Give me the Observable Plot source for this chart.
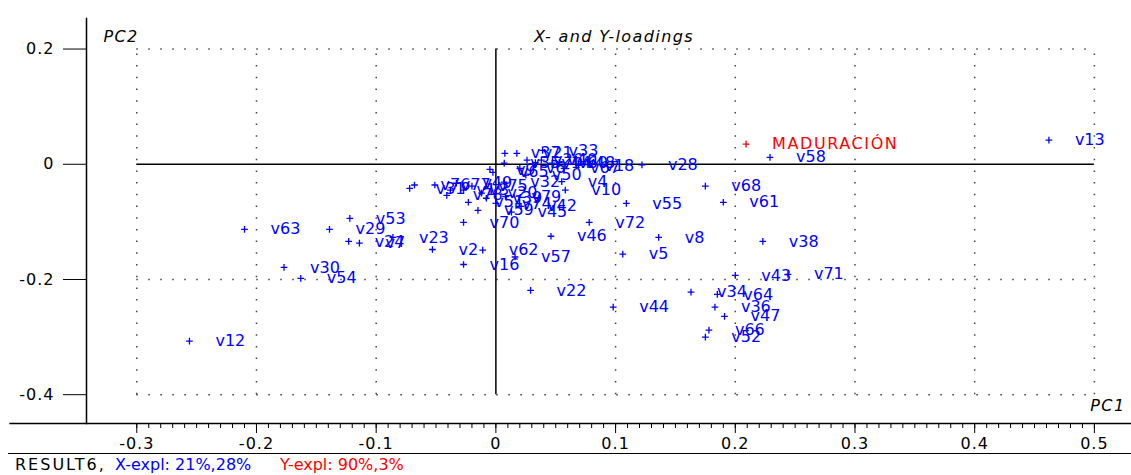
<!DOCTYPE html>
<html>
<head>
<meta charset="utf-8">
<script src="https://cdn.jsdelivr.net/npm/d3@7"></script>
<script src="https://cdn.jsdelivr.net/npm/@observablehq/plot@0.6"></script>
<style>
  html, body { margin: 0; padding: 0; background: white; }
  #cap { position: relative; height: 22px; margin-left: 8px; border-top: 1px solid black;
         font-family: "DejaVu Sans", sans-serif; font-size: 16px; line-height: 22px; }
  #cap span { position: absolute; top: 0; white-space: pre; }
</style>
</head>
<body>
<div id="chart"></div>
<div id="cap"><span style="left:7px;color:#000;letter-spacing:2px">RESULT6,</span><span style="left:107px;color:#0000ff">X-expl: 21%,28%</span><span style="left:272px;color:#ff0000">Y-expl: 90%,3%</span></div>
<script>
// X-variables (loadings)
const varNames = ["v13","v58","v28","v68","v61","v55","v72","v46","v8","v5","v62","v57","v22","v44","v43","v71","v38","v34","v64","v36","v47","v66","v52","v12","v63","v29","v53","v24","v7","v23","v2","v16","v70","v30","v54",
  "v37","v21","v33","v35","v65","v26","v14","v40","v60","v48","v67","v18","v6","v32","v50","v4","v10","v9",
  "v31","v76","v77","v49","v3","v75","v1","v51","v79","v59","v45","v42","v74","v39","v20","v78"];
const pc1Loadings = [0.462,0.229,0.122,0.175,0.190,0.109,0.078,0.046,0.136,0.106,-0.011,0.016,0.029,0.098,0.200,0.244,0.223,0.163,0.185,0.183,0.191,0.178,0.175,-0.256,-0.210,-0.139,-0.122,-0.123,-0.114,-0.086,-0.053,-0.027,-0.027,-0.177,-0.163,
  0.0075,0.0175,0.039,0.007,-0.0025,0.026,0.033,0.038,0.047,0.053,0.057,0.069,0.020,0.007,0.025,0.055,0.058,-0.005,
  -0.072,-0.068,-0.051,-0.033,-0.027,-0.020,-0.038,-0.023,0.008,-0.015,0.013,0.021,0.000,-0.008,-0.012,-0.041];
const pc2Loadings = [0.042,0.012,-0.001,-0.038,-0.066,-0.068,-0.101,-0.125,-0.127,-0.156,-0.149,-0.161,-0.219,-0.248,-0.193,-0.191,-0.134,-0.222,-0.226,-0.248,-0.264,-0.288,-0.300,-0.307,-0.113,-0.113,-0.094,-0.134,-0.137,-0.127,-0.148,-0.174,-0.101,-0.179,-0.198,
  0.019,0.019,0.024,0.002,-0.014,0.007,0.003,0.007,0.002,0.003,-0.007,-0.002,-0.007,-0.031,-0.019,-0.030,-0.045,-0.009,
  -0.042,-0.036,-0.036,-0.033,-0.045,-0.038,-0.045,-0.066,-0.056,-0.080,-0.083,-0.073,-0.068,-0.059,-0.050,-0.054];
// Y-variable (response)
const respNames = ["MADURACIÓN"];
const respPC1 = [0.209];
const respPC2 = [0.035];

// Axes
const xTicks = [-0.3,-0.2,-0.1,0,0.1,0.2,0.3,0.4,0.5];
const xTickLabels = ["-0.3","-0.2","-0.1","0","0.1","0.2","0.3","0.4","0.5"];
const xMinorTicks = d3.range(-30, 51).map(i => i / 100);
const yTicks = [0.2,0,-0.2,-0.4];
const yTickLabels = ["0.2","0","-0.2","-0.4"];
const gridX = [-0.3,-0.2,-0.1,0.1,0.2,0.3,0.4,0.5];
const gridY = [0.2,-0.2,-0.4];

const xVars = varNames.map((n, i) => ({name: n, pc1: pc1Loadings[i], pc2: pc2Loadings[i]}));
const yVars = respNames.map((n, i) => ({name: n, pc1: respPC1[i], pc2: respPC2[i]}));

const xDomain = [-0.342, 0.531];
const yDomain = [-0.45, 0.253];
const xFarLeft = -0.406;

const chart = Plot.plot({
  width: 1131,
  height: 453,
  marginLeft: 86,
  marginRight: 0,
  marginTop: 18,
  marginBottom: 30,
  x: {domain: xDomain, label: null},
  y: {domain: yDomain, label: null},
  style: "font-family: 'DejaVu Sans', sans-serif; font-size: 16px; background: white; color: black;",
  marks: [
    Plot.ruleX(gridX, {y1: -0.4, y2: 0.2, stroke: "#444", strokeWidth: 1.5, strokeDasharray: "1.5,10.2"}),
    Plot.ruleY(gridY, {x1: -0.3, x2: 0.5, stroke: "#444", strokeWidth: 1.5, strokeDasharray: "1.5,10.5"}),
    Plot.ruleX([0], {y1: -0.4, y2: 0.2, stroke: "black", strokeWidth: 1.5}),
    Plot.ruleY([0], {x1: -0.3, x2: 0.5, stroke: "black", strokeWidth: 1.5}),
    Plot.frame({anchor: "left", stroke: "black", strokeWidth: 1.5}),
    Plot.ruleY([yDomain[0]], {x1: xFarLeft, x2: xDomain[1], stroke: "black", strokeWidth: 1.5}),
    Plot.axisX({ticks: xMinorTicks, tickSize: 5, tickFormat: () => "", label: null}),
    Plot.axisX({ticks: xTicks, tickSize: 10, tickPadding: 4, label: null,
      tickFormat: d => xTickLabels[xTicks.findIndex(t => Math.abs(t - d) < 1e-9)]}),
    Plot.axisY({ticks: yTicks, tickSize: 23, tickPadding: 9, label: null,
      tickFormat: d => yTickLabels[yTicks.findIndex(t => Math.abs(t - d) < 1e-9)]}),
    Plot.dot(xVars, {x: "pc1", y: "pc2", symbol: "plus", r: 2.3, stroke: "#0000ff", strokeWidth: 1.3}),
    Plot.text(xVars, {x: "pc1", y: "pc2", text: "name", dx: 26, textAnchor: "start", fill: "#0000ff"}),
    Plot.dot(yVars, {x: "pc1", y: "pc2", symbol: "plus", r: 2.3, stroke: "#ff0000", strokeWidth: 1.3}),
    Plot.text(yVars, {x: "pc1", y: "pc2", text: "name", dx: 26, textAnchor: "start", fill: "#ff0000"}),
    Plot.text(["PC2"], {frameAnchor: "top-left", dx: 17, dy: 12, textAnchor: "start", fontStyle: "italic", fill: "black"}),
    Plot.text(["X- and Y-loadings"], {frameAnchor: "top", dx: 5, dy: 12, fontStyle: "italic", fill: "black"}),
    Plot.text(["PC1"], {frameAnchor: "bottom-right", dx: -6, dy: -13, textAnchor: "end", fontStyle: "italic", fill: "black"})
  ]
});

chart.querySelectorAll("text").forEach(t => {
  const s = t.textContent;
  if (s === "MADURACIÓN") t.style.letterSpacing = "1.6px";
  else if (s === "X- and Y-loadings" || s === "PC1" || s === "PC2") t.style.letterSpacing = "1.4px";
  else if (/^-?0(\.\d)?$/.test(s)) t.style.letterSpacing = "1px";
});

document.getElementById("chart").appendChild(chart);
</script>
</body>
</html>
